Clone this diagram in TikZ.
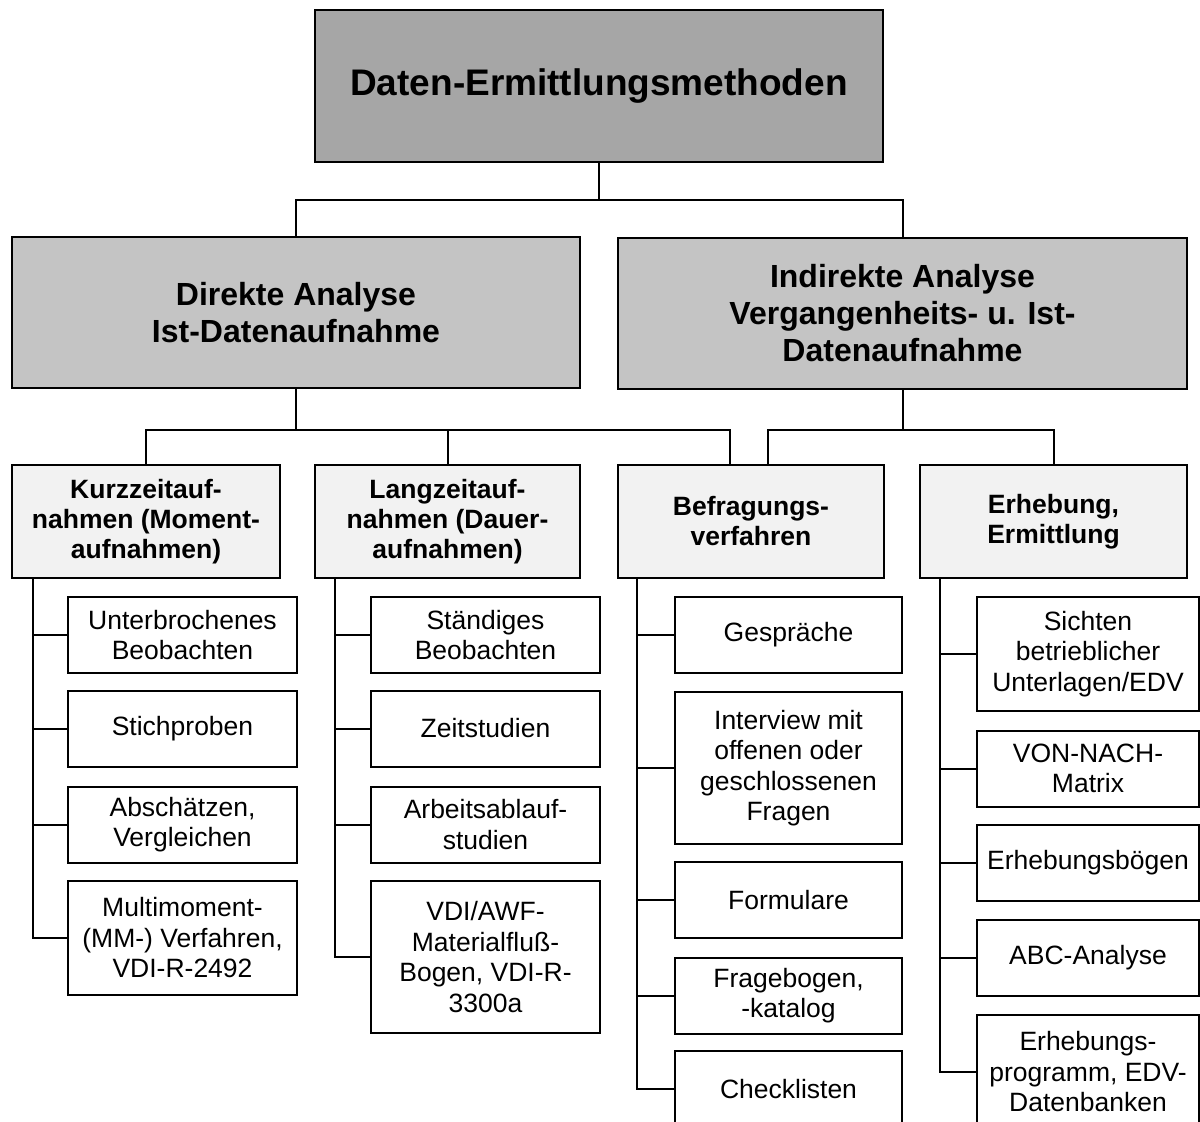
\documentclass[tikz,border=0pt]{standalone}
\usepackage{fontspec}
\setmainfont{Liberation Sans}
\definecolor{topgray}{HTML}{A6A6A6}
\definecolor{midgray}{HTML}{C4C4C4}
\definecolor{lightgray}{HTML}{F2F2F2}
\begin{document}
\begin{tikzpicture}[x=1pt,y=-1pt,
  box/.style={draw=black, line width=2pt, align=center, inner sep=0pt, anchor=center},
  topbox/.style={box, fill=topgray, minimum width=568pt, minimum height=152pt,
    font=\fontsize{37}{43}\selectfont\bfseries},
  mainbox/.style={box, fill=midgray, minimum width=568pt, minimum height=151pt,
    font=\fontsize{32}{37}\selectfont\bfseries},
  groupbox/.style={box, fill=lightgray, minimum width=267pt, minimum height=113pt,
    font=\fontsize{26.5}{30}\selectfont\bfseries},
  leaf/.style={box, fill=white, minimum width=229pt, minimum height=76pt,
    font=\fontsize{26.5}{30.5}\selectfont},
  leafm/.style={leaf, minimum height=114pt},
  leafl/.style={leaf, minimum height=152pt},
  conn/.style={draw=black, line width=2pt}
]
\useasboundingbox (0,0) rectangle (1200,1122);
\clip (0,0) rectangle (1200,1122);

% top level
\node[topbox] (top) at (599,86) {Daten-Ermittlungsmethoden};

% second level
\node[mainbox] (dir) at (296,312.5) {Direkte Analyse\\Ist-Datenaufnahme};
\node[mainbox, minimum width=569pt] (ind) at (902.5,313.5) {Indirekte Analyse\\Vergangenheits- u. Ist-\\Datenaufnahme};

% third level
\node[groupbox, minimum width=268pt] (kurz) at (146,521.5) {Kurzzeitauf-\\nahmen (Moment-\\aufnahmen)};
\node[groupbox, minimum width=265pt] (lang) at (447.5,521.5) {Langzeitauf-\\nahmen (Dauer-\\aufnahmen)};
\node[groupbox, minimum width=266pt] (befr) at (751,521.5) {Befragungs-\\verfahren};
\node[groupbox] (erh) at (1053.5,521.5) {Erhebung,\\Ermittlung};

% leaves: short-term recordings
\node[leaf] (a1) at (182.5,635) {Unterbrochenes\\Beobachten};
\node[leaf] (a2) at (182.5,728.5) {Stichproben};
\node[leaf] (a3) at (182.5,824.5) {Abschätzen,\\Vergleichen};
\node[leafm] (a4) at (182.5,938) {Multimoment-\\(MM-) Verfahren,\\VDI-R-2492};

% leaves: long-term recordings
\node[leaf] (b1) at (485.5,635) {Ständiges\\Beobachten};
\node[leaf] (b2) at (485.5,728.5) {Zeitstudien};
\node[leaf] (b3) at (485.5,824.5) {Arbeitsablauf-\\studien};
\node[leafl] (b4) at (485.5,957) {VDI/AWF-\\Materialfluß-\\Bogen, VDI-R-\\3300a};

% leaves: questioning
\node[leaf, minimum width=227pt] (c1) at (788.5,635) {Gespräche};
\node[leafl, minimum width=227pt] (c2) at (788.5,768) {Interview mit\\offenen oder\\geschlossenen\\Fragen};
\node[leaf, minimum width=227pt] (c3) at (788.5,900) {Formulare};
\node[leaf, minimum width=227pt] (c4) at (788.5,995.5) {Fragebogen,\\-katalog};
\node[leaf, minimum width=227pt] (c5) at (788.5,1089) {Checklisten};

% leaves: survey
\node[leafm, minimum width=222pt] (d1) at (1088,654) {Sichten\\betrieblicher\\Unterlagen/EDV};
\node[leaf, minimum width=222pt] (d2) at (1088,768.5) {VON-NACH-\\Matrix};
\node[leaf, minimum width=222pt] (d3) at (1088,862.5) {Erhebungsbögen};
\node[leaf, minimum width=222pt] (d4) at (1088,957.5) {ABC-Analyse};
\node[leafm, minimum width=222pt] (d5) at (1088,1072) {Erhebungs-\\programm, EDV-\\Datenbanken};

% junction points
\coordinate (j1) at (top.south |- 0,200);
\coordinate (j2) at (dir.south |- 0,430);
\coordinate (j3) at (ind.south |- 0,430);
\coordinate (bl) at (730,465);
\coordinate (br) at (768,465);
\coordinate (s1) at (33,578);
\coordinate (s2) at (335,578);
\coordinate (s3) at (637,578);
\coordinate (s4) at (940,578);

% tree connectors
\draw[conn] (top.south) -- (j1);
\draw[conn] (dir.north) |- (j1) -| (ind.north);
\draw[conn] (dir.south) -- (j2);
\draw[conn] (kurz.north) |- (j2) -| (bl);
\draw[conn] (lang.north) -- (lang.north |- j2);
\draw[conn] (ind.south) -- (j3);
\draw[conn] (br) |- (j3) -| (erh.north);

% leaf spines
\draw[conn] (s1) |- (a4.west);
\foreach \n in {a1,a2,a3} \draw[conn] (\n.west) -- (\n.west -| s1);
\draw[conn] (s2) |- (b4.west);
\foreach \n in {b1,b2,b3} \draw[conn] (\n.west) -- (\n.west -| s2);
\draw[conn] (s3) |- (c5.west);
\foreach \n in {c1,c2,c3,c4} \draw[conn] (\n.west) -- (\n.west -| s3);
\draw[conn] (s4) |- (d5.west);
\foreach \n in {d1,d2,d3,d4} \draw[conn] (\n.west) -- (\n.west -| s4);
\end{tikzpicture}
\end{document}
